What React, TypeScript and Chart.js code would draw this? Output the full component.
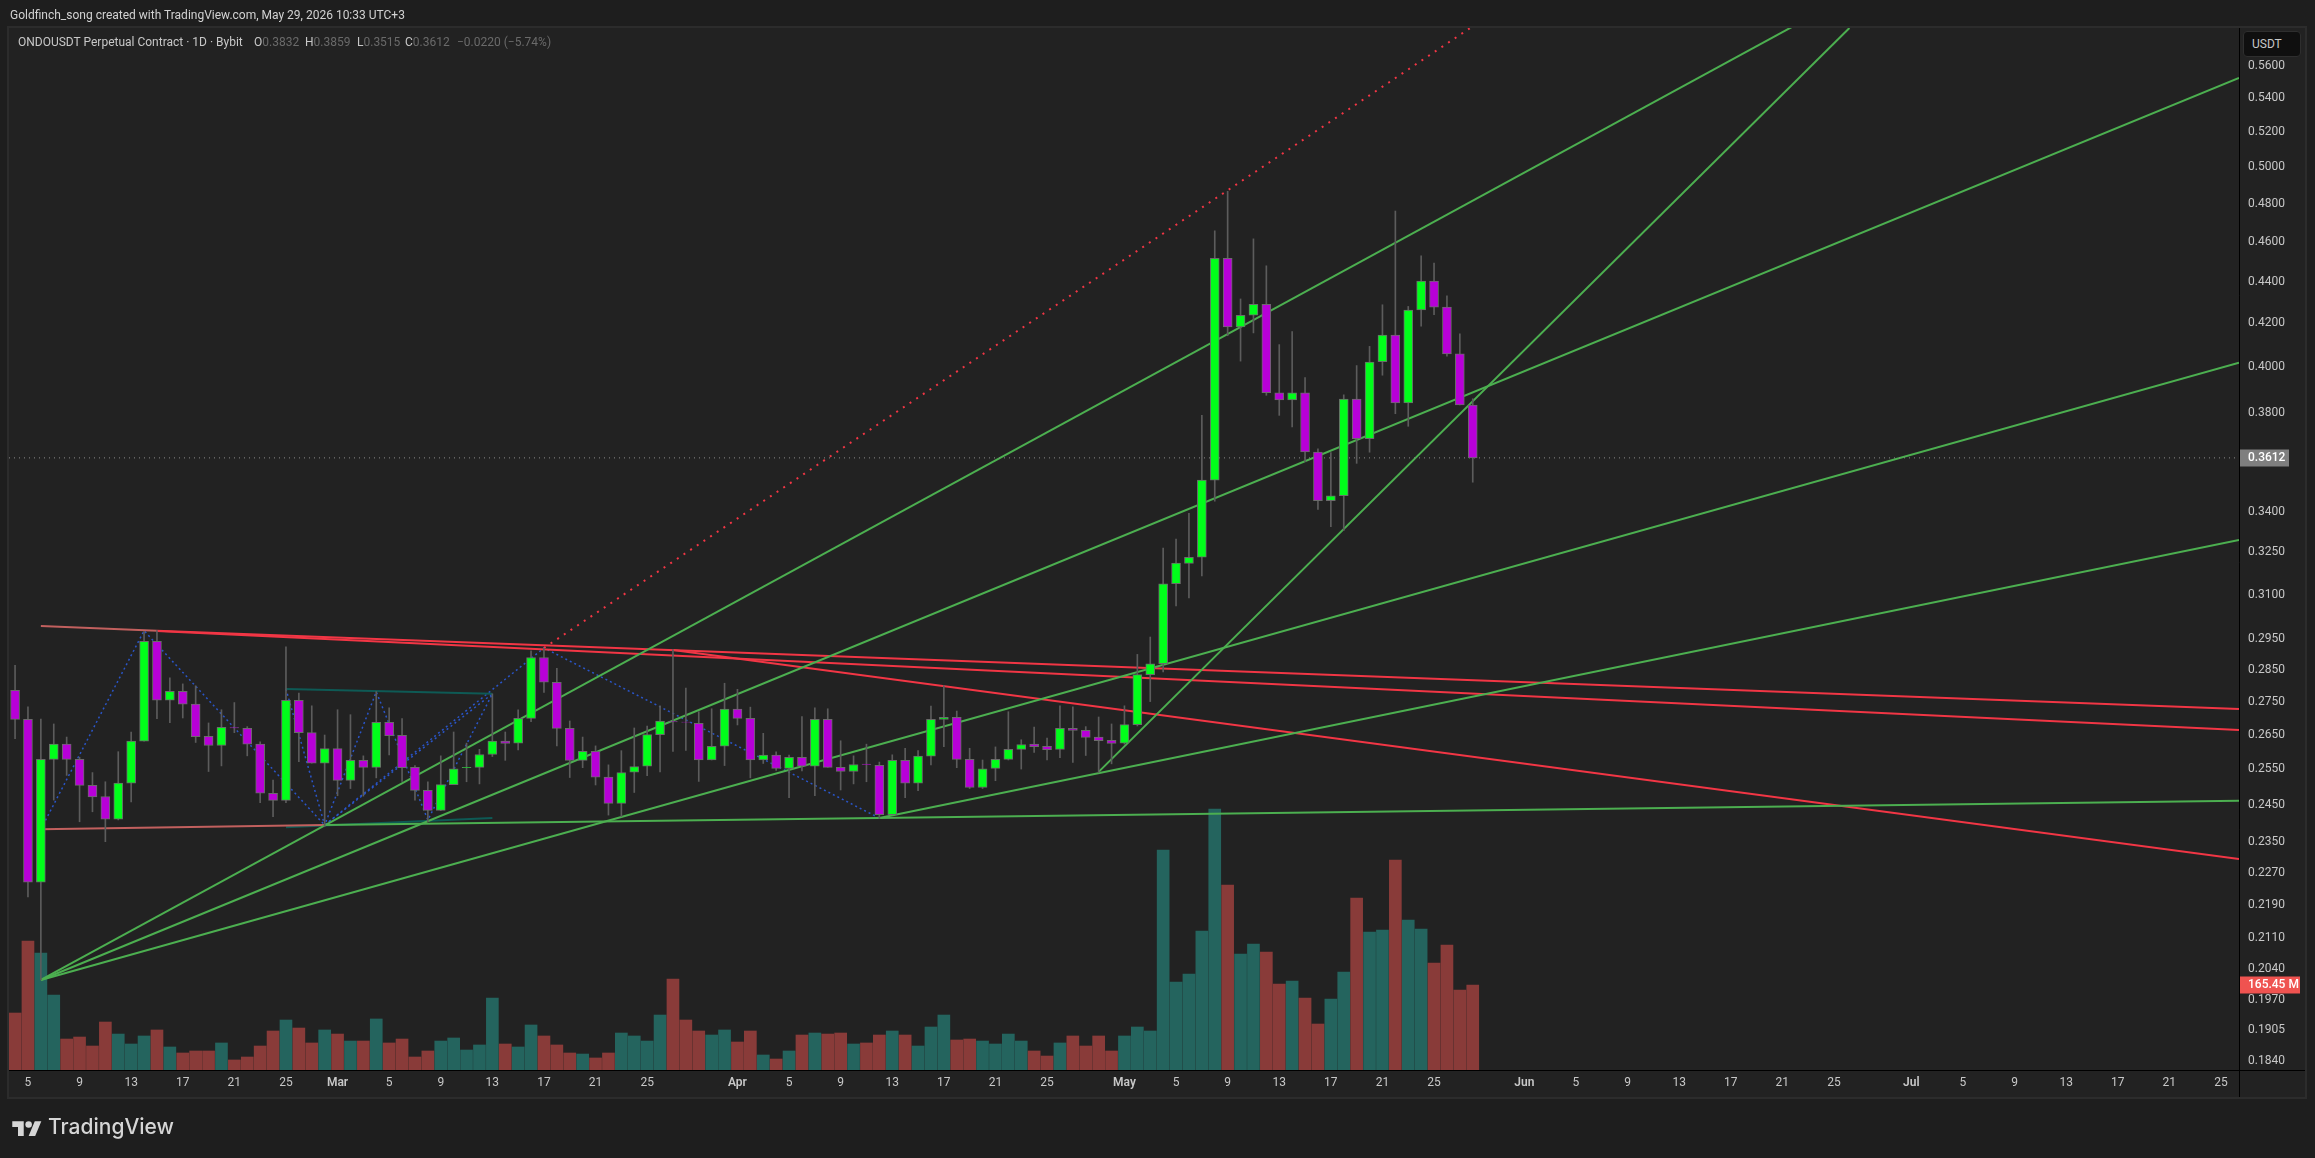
import React, { useEffect, useRef } from "react";
import { Chart, registerables } from "chart.js";

Chart.register(...registerables);

const opens = [
  0.2785,0.2696,0.2247,0.2578,0.2622,0.2578,0.2504,0.2473,0.2411,0.2510,
  0.2631,0.2942,0.2754,0.2782,0.2742,0.2645,0.2618,0.2671,0.2669,0.2622,
  0.2482,0.2462,0.2754,0.2656,0.2567,0.2609,0.2518,0.2575,0.2555,0.2687,
  0.2648,0.2555,0.2490,0.2435,0.2506,0.2554,0.2555,0.2592,0.2631,0.2625,
  0.2699,0.2889,0.2810,0.2669,0.2575,0.2601,0.2527,0.2454,0.2541,0.2558,
  0.2650,0.2689,0.2688,0.2684,0.2576,0.2616,0.2727,0.2699,0.2576,0.2590,
  0.2552,0.2584,0.2558,0.2696,0.2555,0.2543,0.2564,0.2561,0.2423,0.2575,
  0.2510,0.2587,0.2696,0.2702,0.2578,0.2498,0.2552,0.2578,0.2607,0.2622,
  0.2616,0.2607,0.2669,0.2663,0.2643,0.2633,0.2625,0.2680,0.2834,0.2869,
  0.3138,0.3210,0.3232,0.3523,0.4515,0.4182,0.4237,0.4289,0.3885,0.3854,
  0.3885,0.3636,0.3443,0.3462,0.3858,0.3690,0.4022,0.4144,0.3841,0.4262,
  0.4402,0.4276,0.4058,0.3832,
];
const highs = [
  0.2864,0.2734,0.2697,0.2682,0.2643,0.2584,0.2540,0.2514,0.2600,0.2658,
  0.2974,0.2977,0.2824,0.2805,0.2799,0.2685,0.2725,0.2747,0.2674,0.2629,
  0.2519,0.2924,0.2776,0.2737,0.2649,0.2725,0.2710,0.2588,0.2781,0.2731,
  0.2698,0.2560,0.2514,0.2588,0.2658,0.2625,0.2607,0.2774,0.2658,0.2725,
  0.2911,0.2919,0.2854,0.2691,0.2643,0.2617,0.2562,0.2603,0.2670,0.2676,
  0.2737,0.2915,0.2792,0.2719,0.2728,0.2807,0.2788,0.2733,0.2654,0.2600,
  0.2590,0.2704,0.2731,0.2728,0.2632,0.2588,0.2622,0.2570,0.2591,0.2610,
  0.2603,0.2736,0.2800,0.2721,0.2610,0.2576,0.2614,0.2719,0.2635,0.2673,
  0.2640,0.2737,0.2734,0.2674,0.2703,0.2682,0.2737,0.2899,0.2956,0.3265,
  0.3298,0.3395,0.3788,0.4657,0.4867,0.4315,0.4615,0.4478,0.4100,0.4160,
  0.3952,0.3649,0.3633,0.3876,0.4005,0.4092,0.4287,0.4761,0.4279,0.4528,
  0.4492,0.4330,0.4150,0.3859,
];
const lows = [
  0.2638,0.2210,0.2014,0.2463,0.2532,0.2404,0.2431,0.2351,0.2409,0.2458,
  0.2631,0.2698,0.2686,0.2700,0.2627,0.2543,0.2559,0.2656,0.2588,0.2456,
  0.2418,0.2456,0.2571,0.2567,0.2391,0.2475,0.2495,0.2474,0.2525,0.2591,
  0.2515,0.2463,0.2404,0.2434,0.2506,0.2514,0.2508,0.2586,0.2575,0.2605,
  0.2689,0.2778,0.2617,0.2526,0.2554,0.2505,0.2422,0.2418,0.2484,0.2531,
  0.2542,0.2601,0.2604,0.2515,0.2576,0.2560,0.2679,0.2525,0.2566,0.2546,
  0.2470,0.2545,0.2475,0.2555,0.2491,0.2508,0.2514,0.2413,0.2423,0.2470,
  0.2489,0.2562,0.2615,0.2554,0.2495,0.2495,0.2517,0.2576,0.2550,0.2598,
  0.2576,0.2583,0.2569,0.2589,0.2540,0.2565,0.2622,0.2676,0.2750,0.2843,
  0.3061,0.3088,0.3165,0.3441,0.4141,0.4025,0.4154,0.3874,0.3788,0.3739,
  0.3597,0.3410,0.3344,0.3330,0.3590,0.3635,0.3962,0.3795,0.3742,0.4186,
  0.4240,0.4047,0.3832,0.3515,
];
const closes = [
  0.2696,0.2247,0.2578,0.2622,0.2578,0.2504,0.2472,0.2411,0.2510,0.2631,
  0.2942,0.2754,0.2782,0.2742,0.2644,0.2618,0.2672,0.2670,0.2622,0.2482,
  0.2462,0.2754,0.2656,0.2567,0.2609,0.2518,0.2575,0.2555,0.2687,0.2647,
  0.2554,0.2490,0.2435,0.2506,0.2551,0.2555,0.2592,0.2631,0.2624,0.2699,
  0.2889,0.2810,0.2669,0.2575,0.2601,0.2527,0.2454,0.2540,0.2557,0.2650,
  0.2691,0.2688,0.2687,0.2576,0.2616,0.2727,0.2699,0.2576,0.2590,0.2552,
  0.2584,0.2558,0.2696,0.2555,0.2543,0.2563,0.2563,0.2423,0.2575,0.2510,
  0.2587,0.2696,0.2702,0.2578,0.2498,0.2551,0.2578,0.2607,0.2621,0.2615,
  0.2606,0.2669,0.2663,0.2642,0.2632,0.2624,0.2680,0.2834,0.2869,0.3137,
  0.3211,0.3232,0.3523,0.4515,0.4182,0.4237,0.4289,0.3885,0.3854,0.3885,
  0.3636,0.3443,0.3462,0.3858,0.3690,0.4021,0.4144,0.3841,0.4262,0.4402,
  0.4276,0.4058,0.3832,0.3612,
];
const volumes = [
  110.9,251,227.7,146,60.3,64.2,46.7,93.4,70,50.6,
  66.2,77.9,44.8,33.1,37,37,52.6,19.5,25.3,46.7,
  75.9,97.3,81.7,52.6,77.9,70,56.4,56.4,99.3,52.6,
  60.3,25.3,37,56.4,62.3,38.9,48.7,140,50.6,44.8,
  87.6,66.2,48.7,33.1,31.1,23.4,33.1,72,66.2,56.4,
  107,177,97.3,75.9,68.1,77.9,54.5,75.9,29.2,21.4,
  37,68.1,72,70,72,50.6,52.6,68.1,75.9,68.1,
  46.7,83.7,107,58.4,60.3,56.4,50.6,70,56.4,37,
  27.2,52.6,66.2,46.7,66.2,37,66.2,83.7,75.9,428.2,
  171.3,186.9,270.5,508,360,225.8,245.2,229.7,167.4,173.2,
  140.1,89.5,138.2,190.7,334.8,268.6,272.5,408.7,292,274.4,
  208.3,243.3,155.7,165.45,
];

// time axis: day index (0 = 4 Feb) and its label
const xTickDays = [1,5,9,13,17,21,25,29,33,37,41,45,49,56,60,64,68,72,76,80,86,90,94,98,102,106,110,117,121,125,129,133,137,141,147,151,155,159,163,167,171];
const xTickLabels = ["5","9","13","17","21","25","Mar","5","9","13","17","21","25","Apr","5","9","13","17","21","25","May","5","9","13","17","21","25","Jun","5","9","13","17","21","25","Jul","5","9","13","17","21","25"];
const monthLabels = ["Mar", "Apr", "May", "Jun", "Jul"];
const xMin = -0.47;
const xMax = 172.4;

const yTicks = [0.56,0.54,0.52,0.5,0.48,0.46,0.44,0.42,0.4,0.38,0.34,0.325,0.31,0.295,0.285,0.275,0.265,0.255,0.245,0.235,0.227,0.219,0.211,0.204,0.197,0.1905,0.184];
const yMin = 0.1821;
const yMax = 0.5843;
const volumeMax = 2028;
const lastPrice = 0.3612;
const lastVolume = 165.45;

// drawn trend lines: [day, price] pairs
const greenFan1 = [[2,0.2014],[172.4,0.768]];
const greenFan2 = [[2,0.2014],[172.4,0.5525]];
const greenFan3 = [[2,0.2014],[172.4,0.4018]];
const greenRise1 = [[67,0.2414],[172.4,0.3295]];
const greenFlat = [[24,0.2395],[172.4,0.2461]];
const greenSteep = [[84,0.2542],[142.2,0.5843]];
const redTop1 = [[11,0.2977],[172.4,0.2727]];
const redTop2 = [[11,0.2976],[172.4,0.2664]];
const redSteep = [[51,0.2913],[172.4,0.2306]];
const salmonTop = [[2,0.2993],[11,0.2977]];
const salmonBase = [[2,0.2384],[24,0.2395]];
const redDotted = [[41,0.292],[112.8,0.5843]];
const zigzagLong = [[2,0.2384],[10,0.2977],[24,0.2395],[41,0.292],[67,0.2414]];
const zigzagShort = [[21,0.2789],[24,0.2395],[28,0.278],[32,0.2409],[37,0.2774]];
const zigzagBack = [[24,0.2395],[37,0.2774]];
const tealTop = [[21,0.2789],[37,0.2774]];
const tealBase = [[21,0.2389],[37,0.2414]];
const lastPriceLine = [[xMin,lastPrice],[xMax,lastPrice]];

const GREEN = "#4caf50";
const RED = "#f23645";
const SALMON = "#c2605e";
const BLUE = "#2a55c8";
const TEAL = "#0e5a55";
const TICK = "#c8c8c8";
const FONT = "Roboto, sans-serif";

const line = (points: number[][], color: string, extra: any = {}) => ({
  type: "line" as const,
  data: points.map(([x, y]) => ({ x, y })),
  borderColor: color,
  borderWidth: 2,
  pointRadius: 0,
  tension: 0,
  yAxisID: "y",
  order: 5,
  ...extra,
});

const framePlugin = {
  id: "frame",
  beforeDraw(chart: any) {
    const { ctx } = chart;
    ctx.save();
    ctx.fillStyle = "#1e1e1e";
    ctx.fillRect(0, 0, chart.width, chart.height);
    ctx.fillStyle = "#222222";
    ctx.fillRect(8, 27, 2298, 1071);
    ctx.strokeStyle = "#2c2c2c";
    ctx.lineWidth = 2;
    ctx.strokeRect(8, 27, 2298, 1071);
    ctx.restore();
  },
  afterDraw(chart: any) {
    const { ctx, chartArea: a, scales } = chart;
    ctx.save();
    ctx.strokeStyle = "#000000";
    ctx.lineWidth = 1;
    ctx.beginPath();
    ctx.moveTo(a.right + 0.5, a.top);
    ctx.lineTo(a.right + 0.5, 1097);
    ctx.moveTo(a.left, a.bottom + 0.5);
    ctx.lineTo(2305, a.bottom + 0.5);
    ctx.stroke();

    const badge = (text: string, y: number, w: number, color: string) => {
      ctx.fillStyle = color;
      ctx.fillRect(a.right + 1, Math.round(y) - 8.5, w, 17);
      ctx.fillStyle = "#ffffff";
      ctx.font = `500 12px ${FONT}`;
      ctx.textBaseline = "middle";
      ctx.textAlign = "left";
      ctx.fillText(text, a.right + 9, Math.round(y));
    };
    badge(lastPrice.toFixed(4), scales.y.getPixelForValue(lastPrice), 49, "#7f7f7f");
    badge(`${lastVolume.toFixed(2)} M`, scales.y2.getPixelForValue(lastVolume), 60, "#ef5350");
    ctx.restore();
  },
};

export default function App() {
  const ref = useRef<HTMLCanvasElement | null>(null);

  useEffect(() => {
    if (!ref.current) return;
    const days = closes.map((_, i) => i);
    const isUp = (i: number) => closes[i] >= opens[i];
    const chart = new Chart(ref.current, {
      data: {
        datasets: [
          {
            type: "bar",
            data: days.map((d) => ({ x: d, y: [opens[d], closes[d]] })),
            backgroundColor: days.map((d) => (isUp(d) ? "#00ff1a" : "#b800d8")),
            borderColor: "#6b6b6b",
            borderWidth: 1,
            borderSkipped: false,
            barThickness: 9,
            barPercentage: 1,
            categoryPercentage: 1,
            grouped: false,
            yAxisID: "y",
            order: 1,
          },
          {
            type: "bar",
            data: days.map((d) => ({ x: d, y: [lows[d], highs[d]] })),
            backgroundColor: "#5c5c5c",
            barThickness: 1,
            barPercentage: 1,
            categoryPercentage: 1,
            grouped: false,
            yAxisID: "y",
            order: 2,
          },
          line(greenFan1, GREEN),
          line(greenFan2, GREEN),
          line(greenFan3, GREEN),
          line(greenRise1, GREEN),
          line(greenFlat, GREEN),
          line(greenSteep, GREEN),
          line(redTop1, RED),
          line(redTop2, RED),
          line(redSteep, RED),
          line(salmonTop, SALMON),
          line(salmonBase, SALMON),
          line(redDotted, RED, { borderDash: [2, 6] }),
          line(zigzagLong, BLUE, { borderWidth: 1.5, borderDash: [2, 3], order: 7 }),
          line(zigzagShort, BLUE, { borderWidth: 1.5, borderDash: [2, 3], order: 7 }),
          line(zigzagBack, BLUE, { borderWidth: 1.5, borderDash: [2, 3], order: 7 }),
          line(tealTop, TEAL, { order: 6 }),
          line(tealBase, TEAL, { order: 6 }),
          line(lastPriceLine, "#8a8a8a", { borderWidth: 1, borderDash: [1, 4], order: 4 }),
          {
            type: "bar",
            data: days.map((d) => ({ x: d, y: volumes[d] })),
            backgroundColor: days.map((d) =>
              isUp(d) ? "rgba(38,166,154,0.5)" : "rgba(239,83,80,0.5)"
            ),
            barThickness: 12,
            barPercentage: 1,
            categoryPercentage: 1,
            grouped: false,
            yAxisID: "y2",
            order: 10,
          },
        ] as any,
      },
      options: {
        animation: false,
        responsive: false,
        devicePixelRatio: 1,
        layout: { padding: { left: 9, top: 28, right: 10, bottom: 61 } },
        plugins: { legend: { display: false }, tooltip: { enabled: false } },
        scales: {
          x: {
            type: "linear",
            min: xMin,
            max: xMax,
            offset: false,
            grid: { display: false, drawTicks: false, offset: false },
            border: { display: false },
            afterBuildTicks: (s: any) => {
              s.ticks = xTickDays.map((value) => ({ value }));
            },
            afterFit: (s: any) => {
              s.height = 27;
            },
            ticks: {
              autoSkip: false,
              maxRotation: 0,
              padding: 6,
              color: TICK,
              font: (c: any) => {
                const i = xTickDays.indexOf(c.tick?.value);
                return {
                  family: FONT,
                  size: 12,
                  weight: monthLabels.includes(xTickLabels[i]) ? "600" : "400",
                };
              },
              callback: (v: any) => xTickLabels[xTickDays.indexOf(v)] ?? "",
            },
          },
          y: {
            type: "logarithmic",
            position: "right",
            min: yMin,
            max: yMax,
            grid: { display: false, drawTicks: false },
            border: { display: false },
            afterBuildTicks: (s: any) => {
              s.ticks = yTicks.map((value) => ({ value }));
            },
            afterFit: (s: any) => {
              s.width = 66;
            },
            ticks: {
              autoSkip: false,
              padding: 9,
              color: TICK,
              font: { family: FONT, size: 12 },
              callback: (v: any) => Number(v).toFixed(4),
            },
          },
          y2: {
            type: "linear",
            display: false,
            position: "left",
            min: 0,
            max: volumeMax,
          },
        },
      },
      plugins: [framePlugin],
    } as any);
    return () => chart.destroy();
  }, []);

  const dim = { color: "#6a6a6a" };
  return (
    <div
      style={{
        position: "fixed",
        left: 0,
        top: 0,
        width: 2315,
        height: 1158,
        overflow: "hidden",
        background: "#1e1e1e",
        fontFamily: FONT,
      }}
    >
      <canvas ref={ref} width={2315} height={1158} style={{ display: "block" }} />
      <div style={{ position: "absolute", left: 10, top: 7, fontSize: 12, lineHeight: "16px", color: "#d2d2d2", whiteSpace: "nowrap" }}>
        Goldfinch_song created with TradingView.com, May 29, 2026 10:33 UTC+3
      </div>
      <div style={{ position: "absolute", left: 18, top: 34, fontSize: 12, lineHeight: "16px", color: "#c8c8c8", whiteSpace: "nowrap" }}>
        ONDOUSDT Perpetual Contract · 1D · Bybit
      </div>
      {[
        ["O", "0.3832", 254],
        ["H", "0.3859", 305],
        ["L", "0.3515", 357],
        ["C", "0.3612", 405],
      ].map(([k, v, x]) => (
        <div key={k as string} style={{ position: "absolute", left: x as number, top: 34, fontSize: 12, lineHeight: "16px", color: "#c8c8c8", whiteSpace: "nowrap" }}>
          {k}
          <span style={dim}>{v}</span>
        </div>
      ))}
      <div style={{ position: "absolute", left: 457, top: 34, fontSize: 12, lineHeight: "16px", whiteSpace: "nowrap", ...dim }}>
        −0.0220 (−5.74%)
      </div>
      <div
        style={{
          position: "absolute",
          left: 2243,
          top: 31,
          width: 58,
          height: 26,
          boxSizing: "border-box",
          background: "#0f0f0f",
          border: "1px solid #2e2e2e",
          borderRadius: 4,
          color: "#c8c8c8",
          fontSize: 12,
          lineHeight: "24px",
          paddingLeft: 8,
        }}
      >
        USDT
      </div>
      <svg style={{ position: "absolute", left: 12, top: 1118 }} width="30" height="18" viewBox="0 0 36 22">
        <path fill="#d6d6d6" d="M14 22H7V11H0V4h14v18zM28 22h-8l7.5-18h8L28 22z" />
        <circle fill="#d6d6d6" cx="20" cy="8" r="4" />
      </svg>
      <div style={{ position: "absolute", left: 48, top: 1114, fontFamily: "Inter, sans-serif", fontWeight: 500, fontSize: 21, lineHeight: "26px", color: "#d6d6d6", whiteSpace: "nowrap" }}>
        TradingView
      </div>
    </div>
  );
}
